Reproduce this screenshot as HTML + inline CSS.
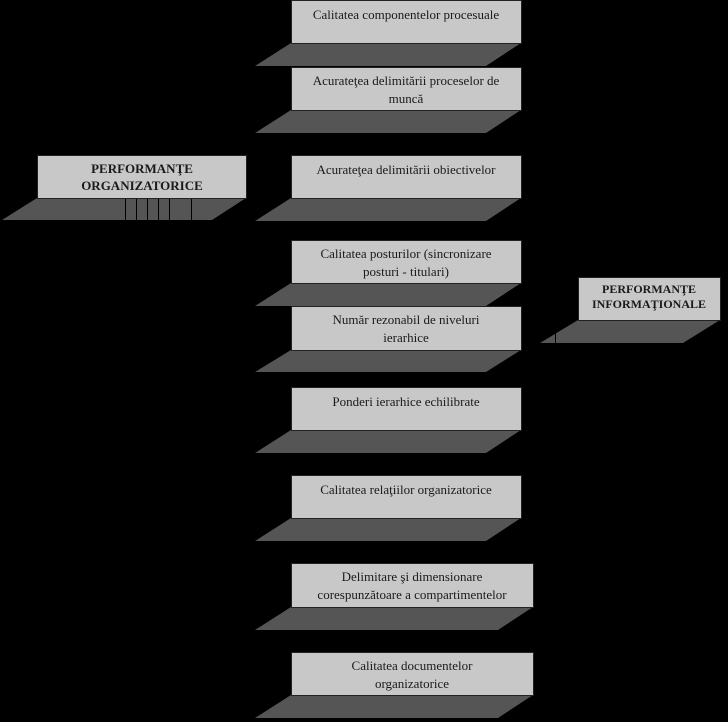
<!DOCTYPE html>
<html><head><meta charset="utf-8"><style>
html,body{margin:0;padding:0;background:#000;width:728px;height:722px;overflow:hidden}
svg{display:block}
</style></head><body>
<svg width="728" height="722" viewBox="0 0 728 722">
<rect width="728" height="722" fill="#000"/>
<g fill="#555">
<polygon points="291,43 521,43 486,66 255,66"/>
<polygon points="291,110 521,110 486,133 255,133"/>
<polygon points="291,198 521,198 486,221 255,221"/>
<polygon points="291,283 521,283 486,306 255,306"/>
<polygon points="291,350 521,350 486,372 255,372"/>
<polygon points="291,430 521,430 486,453 255,453"/>
<polygon points="291,518 521,518 486,541 255,541"/>
<polygon points="291,607 533,607 498,630 255,630"/>
<polygon points="291,695 533,695 498,718 255,718"/>
<polygon points="37,198 246,198 212,220 2,220"/>
<polygon points="578,320 720,320 683,343 540,343"/>
</g>
<g stroke="#000" stroke-width="1">
<line x1="125.5" y1="199" x2="125.5" y2="220"/><line x1="136.5" y1="199" x2="136.5" y2="220"/>
<line x1="147.5" y1="199" x2="147.5" y2="220"/><line x1="158.5" y1="199" x2="158.5" y2="220"/>
<line x1="169.5" y1="199" x2="169.5" y2="220"/><line x1="191.5" y1="199" x2="191.5" y2="220"/>
<line x1="555.5" y1="332" x2="555.5" y2="343"/>
</g>
<g fill="#c8c8c8" stroke="#222" stroke-width="1">
<rect x="291.5" y="0.5" width="230" height="43"/>
<rect x="291.5" y="67.5" width="230" height="43"/>
<rect x="291.5" y="155.5" width="230" height="43"/>
<rect x="291.5" y="240.5" width="230" height="43"/>
<rect x="291.5" y="306.5" width="230" height="44"/>
<rect x="291.5" y="387.5" width="230" height="43"/>
<rect x="291.5" y="475.5" width="230" height="43"/>
<rect x="291.5" y="563.5" width="242" height="44"/>
<rect x="291.5" y="652.5" width="242" height="43"/>
<rect x="37.5" y="155.5" width="209" height="43"/>
<rect x="578.5" y="277.5" width="142" height="43"/>
</g>
<g font-family="'Liberation Serif','DejaVu Serif','Times New Roman',serif" font-size="13" fill="#1a1a1a" text-anchor="middle">
<text x="406" y="19">Calitatea componentelor procesuale</text>
<text x="406" y="85">Acurateţea delimitării proceselor de</text>
<text x="406" y="103">muncă</text>
<text x="406" y="174">Acurateţea delimitării obiectivelor</text>
<text x="406" y="258">Calitatea posturilor (sincronizare</text>
<text x="406" y="276">posturi - titulari)</text>
<text x="406" y="324">Număr rezonabil de niveluri</text>
<text x="406" y="342">ierarhice</text>
<text x="406" y="406">Ponderi ierarhice echilibrate</text>
<text x="406" y="494">Calitatea relaţiilor organizatorice</text>
<text x="412" y="581">Delimitare şi dimensionare</text>
<text x="412" y="599">corespunzătoare a compartimentelor</text>
<text x="412" y="670">Calitatea documentelor</text>
<text x="412" y="688">organizatorice</text>
<text x="142" y="173" font-weight="bold">PERFORMANŢE</text>
<text x="142" y="190" font-weight="bold">ORGANIZATORICE</text>
<text x="649" y="293" font-weight="bold" font-size="12">PERFORMANŢE</text>
<text x="649" y="308" font-weight="bold" font-size="12">INFORMAŢIONALE</text>
</g>
</svg>
</body></html>
